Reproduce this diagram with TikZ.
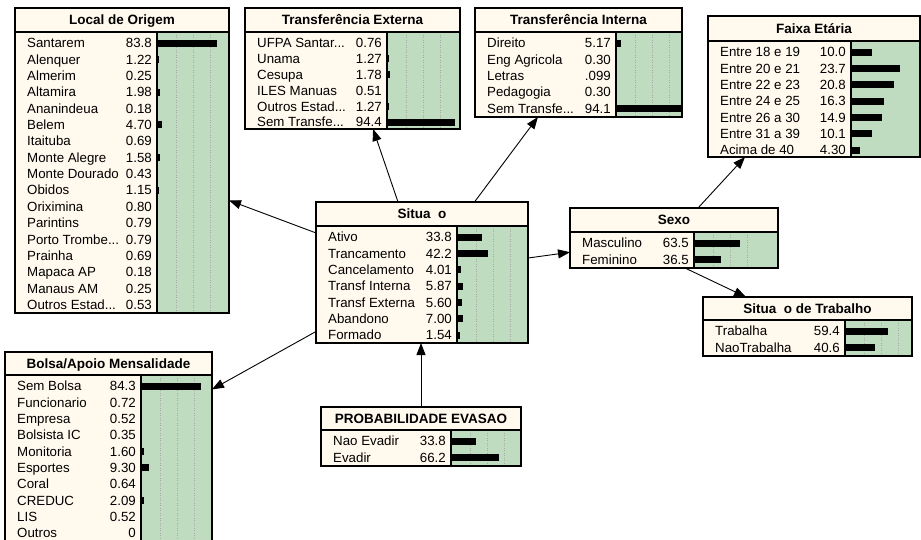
\documentclass[tikz,border=0pt]{standalone}
\usepackage{fontspec}
\setmainfont{Liberation Sans}
\usetikzlibrary{arrows.meta,calc,fit}
\definecolor{creamc}{HTML}{FFF9EE}
\definecolor{greenc}{HTML}{C0DCC0}
\definecolor{gridc}{HTML}{A8A8A8}
\def\bnscale{0.70}
\def\bnadd{1.5}
\def\bngrid{1}
\def\bnsp{16.35}
\def\trd{...}
\tikzset{
  bord/.style={draw=black, line width=1.3pt},
  gridln/.style={draw=gridc, line width=0.5pt, dotted},
  titletext/.style={inner sep=0pt, anchor=base, font=\fontsize{13.5}{16}\selectfont\bfseries},
  rowtext/.style={inner sep=0pt, font=\fontsize{13.3}{16}\selectfont},
  conn/.style={draw=black, line width=0.9pt, -{Triangle[length=12pt,width=9pt]}},
}
\newcommand\bnbox[9]{%
  \node[fit={(#2,#3) (#4,#5)}, inner sep=0pt, outer sep=0pt] (#1) {};
  \fill[creamc] (#2,#3) rectangle (#4,#5);
  \fill[greenc] (#7,#6) rectangle (#4,#5);
  \ifnum\bngrid=1
    \foreach \g in {19.5,36.5,53.5}{\draw[gridln] ({#7+\g},#6) -- ({#7+\g},#5);}
  \fi
  \node[titletext] at ({(#2+#4)/2},{(#3+#6)/2+4.8}) {#8};
  \foreach[count=\i] \rn/\rv/\rb in {#9}{%
    \pgfmathsetmacro\yy{#6+11+(\i-1)*\bnsp}
    \pgfmathsetmacro\bl{\rb*\bnscale+(\rb>=1)*\bnadd}
    \fill[black] ({#7},{\yy-3.5}) rectangle ({#7+\bl},{\yy+3.5});
    \node[rowtext, anchor=base west] at ({#2+12},{\yy+4.8}) {\rn};
    \node[rowtext, anchor=base east] at ({#7-5},{\yy+4.8}) {\rv};
  }
  \draw[bord] (#2,#3) rectangle (#4,#5);
  \draw[bord] (#2,#6) -- (#4,#6);
  \draw[bord] (#7,#6) -- (#7,#5);
}
\begin{document}
\begin{tikzpicture}[x=1pt,y=-1pt]
\clip (0,0) rectangle (921,539);
\fill[white] (0,0) rectangle (921,539);

\bnbox{lo}{15}{8}{229}{313}{32}{157}{Local de Origem}{Santarem/83.8/83.8, Alenquer/1.22/1.22, Almerim/0.25/0.25, Altamira/1.98/1.98, Ananindeua/0.18/0.18, Belem/4.70/4.70, Itaituba/0.69/0.69, Monte Alegre/1.58/1.58, Monte Dourado/0.43/0.43, Obidos/1.15/1.15, Oriximina/0.80/0.80, Parintins/0.79/0.79, Porto Trombe\trd/0.79/0.79, Prainha/0.69/0.69, Mapaca AP/0.18/0.18, Manaus AM/0.25/0.25, Outros Estad\trd/0.53/0.53}

\def\bnsp{15.8}
\bnbox{te}{245}{8}{460}{129}{32}{387}{Transferência Externa}{UFPA Santar\trd/0.76/0.76, Unama/1.27/1.27, Cesupa/1.78/1.78, ILES Manuas/0.51/0.51, Outros Estad\trd/1.27/1.27, Sem Transfe\trd/94.4/94.4}
\def\bnsp{16.35}

\bnbox{ti}{475}{8}{682}{117}{32}{616}{Transferência Interna}{Direito/5.17/5.17, Eng Agricola/0.30/0.30, Letras/.099/0.099, Pedagogia/0.30/0.30, Sem Transfe\trd/94.1/94.1}

\bnbox{sit}{316}{202}{528}{343}{226}{457}{Situa\ \ o}{Ativo/33.8/33.8, Trancamento/42.2/42.2, Cancelamento/4.01/4.01, Transf Interna/5.87/5.87, Transf Externa/5.60/5.60, Abandono/7.00/7.00, Formado/1.54/1.54}

\bnbox{sexo}{570}{208}{778}{268}{232}{694}{Sexo}{Masculino/63.5/63.5, Feminino/36.5/36.5}

\bnbox{st}{703}{297}{912}{356}{320}{845}{Situa\ \ o de Trabalho}{Trabalha/59.4/59.4, NaoTrabalha/40.6/40.6}

\bnbox{pe}{321}{407}{521}{466}{430}{451}{PROBABILIDADE EVASAO}{Nao Evadir/33.8/33.8, Evadir/66.2/66.2}

\def\bnscale{0.69}
\bnbox{bolsa}{5}{352}{212}{542}{375}{141}{Bolsa/Apoio Mensalidade}{Sem Bolsa/84.3/84.3, Funcionario/0.72/0.72, Empresa/0.52/0.52, Bolsista IC/0.35/0.35, Monitoria/1.60/1.60, Esportes/9.30/9.30, Coral/0.64/0.64, CREDUC/2.09/2.09, LIS/0.52/0.52, Outros/0/0}

\def\bnscale{2.05}
\def\bnadd{0}
\def\bngrid{0}
\bnbox{fe}{708}{16}{920}{157}{41}{851}{Faixa Etária}{Entre 18 e 19/10.0/10.0, Entre 20 e 21/23.7/23.7, Entre 22 e 23/20.8/20.8, Entre 24 e 25/16.3/16.3, Entre 26 a 30/14.9/14.9, Entre 31 a 39/10.1/10.1, Acima de 40/4.30/4.30}

\draw[conn] (sit) -- (lo);
\draw[conn] (sit) -- (te);
\draw[conn] (sit) -- (ti);
\draw[conn] (sit) -- (sexo);
\draw[conn] (sit) -- (bolsa);
\draw[conn] (pe.north) -- (pe.north |- sit.south);
\draw[conn] ($(sexo.north)+(24,0)$) -- ($(fe.south)+(-69,0)$);
\draw[conn] ($(sexo.south)+(11,0)$) -- ($(st.north)+(-61.5,0)$);
\end{tikzpicture}
\end{document}
